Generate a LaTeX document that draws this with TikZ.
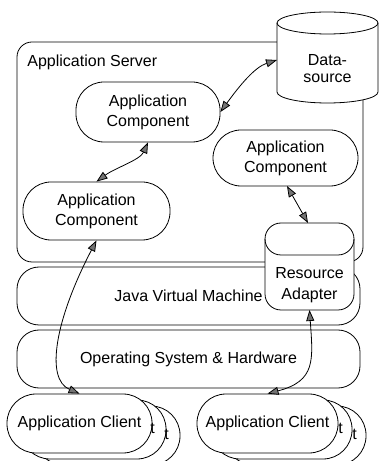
\documentclass[tikz,border=0pt]{standalone}
\usepackage{fontspec}
\setmainfont{Liberation Sans}
\usetikzlibrary{arrows.meta,calc}
\begin{document}
\begin{tikzpicture}[x=1pt,y=1pt,line width=0.8pt,
  font=\fontsize{16}{20}\selectfont,
  box/.style={draw,fill=white,rounded corners=#1,inner sep=0pt,align=center},
  comp/.style={box=28pt},
  layer/.style={box=22pt,minimum width=343pt,minimum height=58pt},
  client/.style={box=29pt,minimum height=59pt},
  txt/.style={inner sep=0pt,align=center},
  tip/.tip={Triangle[length=11pt,width=8pt,fill=black!55]},
  dbl/.style={tip-tip}
]
\useasboundingbox (0,0) rectangle (379,461);
% Application server
\node[box=15pt,fill=none,minimum width=346pt,minimum height=220pt] (srv) at (190,309) {};
\node[txt,anchor=west] (srvlabel) at (27,399) {Application Server};
% components
\node[comp,minimum width=144pt,minimum height=60pt] (c1) at (148,349) {Application\\Component};
\node[comp,minimum width=145pt,minimum height=56pt] (c2) at (285.5,303) {Application\\Component};
\node[comp,minimum width=147pt,minimum height=58pt] (c3) at (96.5,250) {Application\\Component};
% layers
\node[layer] (jvm) at (188.5,165) {Java Virtual Machine};
\node[layer] (os) at (188.5,102) {Operating System \& Hardware};
% Datasource cylinder
\draw[fill=white] (277,438) -- (277,369) arc[start angle=180,end angle=360,x radius=50.5,y radius=11]
  -- (378,438) arc[start angle=0,end angle=180,x radius=50.5,y radius=11] -- cycle;
\draw (277,438) arc[start angle=180,end angle=360,x radius=50.5,y radius=11];
\node[txt,font=\fontsize{16}{17}\selectfont] (ds) at (327.5,392) {Data-\\source};
\coordinate (dsw) at (277,401);
% Resource adapter
\draw[fill=white,rounded corners=16pt] (265,151) rectangle (354,238);
\draw[rounded corners=16pt] (265,222) -- (265,206) -- (354,206) -- (354,222);
\node[txt,font=\fontsize{16}{21}\selectfont] (ra) at (309.5,176) {Resource\\Adapter};
\coordinate (rat) at (308,238);
\coordinate (rab) at (309.5,151);
\coordinate (c2b) at (287,275);
% clients (stacks of three)
\node[client,minimum width=145pt] (cl3) at (107.5,25.5) {};
\node[client,minimum width=145pt] (cl2) at (93.5,31.5) {};
\node[client,minimum width=141pt] (cr3) at (295.5,25.5) {};
\node[client,minimum width=141pt] (cr2) at (281.5,31.5) {};
\node[client,minimum width=145pt] (cl1) at (79.5,37.5) {Application Client};
\node[client,minimum width=141pt] (cr1) at (267.5,37.5) {Application Client};
\node[txt,anchor=base east] (tl2) at ($(cl1.base)+(75.8,-6)$) {t};
\node[txt,anchor=base east] (tl3) at ($(cl1.base)+(89.8,-12)$) {t};
\node[txt,anchor=base east] (tr2) at ($(cr1.base)+(75.8,-6)$) {t};
\node[txt,anchor=base east] (tr3) at ($(cr1.base)+(89.8,-12)$) {t};
% connectors
\draw[dbl] (c1.east) .. controls (240,376) and (255,394) .. (dsw);
\draw[dbl] (c1.south) .. controls (140,301) and (115,293) .. (c3.north);
\draw[dbl] (c2b) -- (rat);
\draw[dbl] (c3.south) .. controls (55,141) and (45,82) .. (cl1.north);
\draw[dbl] (rab) .. controls (313,101) and (316,80) .. (cr1.north);
\end{tikzpicture}
\end{document}
